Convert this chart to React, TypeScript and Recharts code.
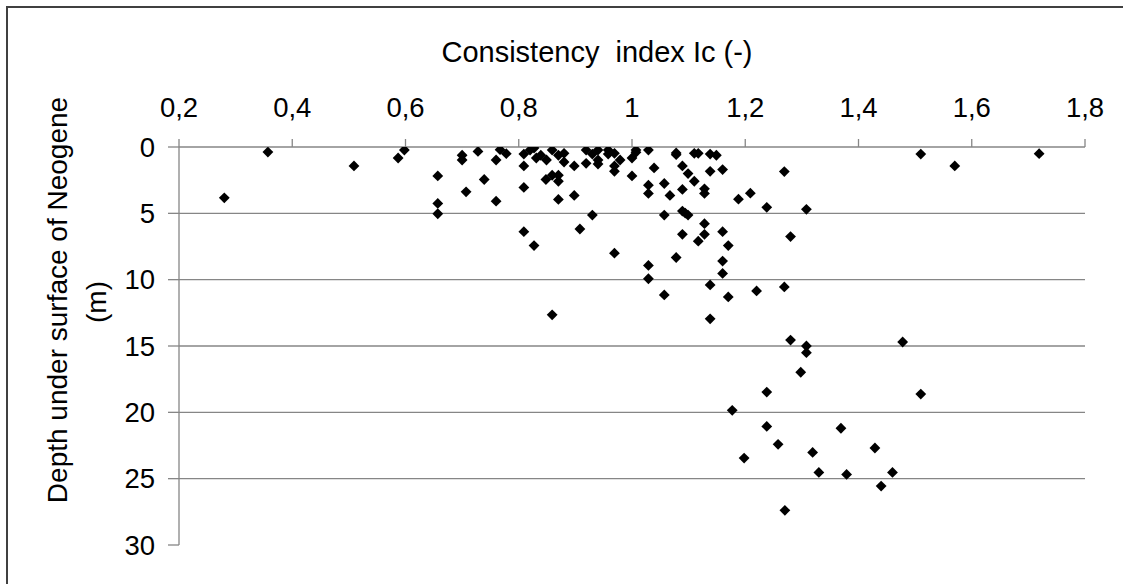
import React from "react";
import {
  ScatterChart,
  Scatter,
  XAxis,
  YAxis,
  ReferenceLine,
} from "recharts";

// Consistency index Ic (-)
const consistencyIndex: number[] = [
  0.28, 0.357, 0.509, 0.587, 0.598, 0.657, 0.657, 0.657, 0.7, 0.7,
  0.707, 0.728, 0.739, 0.76, 0.76, 0.767, 0.778, 0.809, 0.809, 0.809,
  0.809, 0.82, 0.827, 0.831, 0.839, 0.849, 0.848, 0.859, 0.859, 0.87,
  0.87, 0.87, 0.88, 0.88, 0.87, 0.898, 0.898, 0.908, 0.919, 0.919,
  0.93, 0.93, 0.94, 0.94, 0.94, 0.958, 0.958, 0.969, 0.969, 0.969,
  0.979, 1.0, 1.0, 1.007, 1.007, 1.029, 1.029, 1.029, 1.039, 1.057,
  1.057, 1.067, 1.078, 1.078, 1.089, 1.089, 1.089, 1.094, 1.099, 1.099,
  1.11, 1.11, 1.117, 1.128, 1.128, 1.128, 1.128, 1.089, 1.138, 1.149,
  1.138, 1.16, 1.16, 1.188, 1.209, 1.269, 1.238, 1.308, 1.28, 1.51,
  1.57, 1.719, 0.827, 0.969, 0.859, 1.029, 1.029, 1.057, 1.078, 1.117,
  1.17, 1.16, 1.16, 1.138, 1.17, 1.138, 1.22, 1.269, 1.28, 1.308,
  1.308, 1.478, 1.298, 1.238, 1.51, 1.177, 1.238, 1.369, 1.258, 1.429,
  1.319, 1.198, 1.33, 1.379, 1.46, 1.44, 1.27,
];

// Depth under surface of Neogene (m)
const depth: number[] = [
  3.83, 0.38, 1.43, 0.83, 0.23, 2.18, 4.25, 5.03, 0.62, 0.98,
  3.38, 0.33, 2.45, 0.98, 4.08, 0.2, 0.5, 0.53, 1.43, 3.05,
  6.38, 0.23, 0.08, 0.83, 0.62, 0.98, 2.45, 0.23, 2.13, 2.13,
  2.58, 0.62, 0.48, 1.13, 3.95, 1.43, 3.65, 6.18, 0.23, 1.23,
  0.53, 5.13, 0.23, 0.98, 1.28, 0.23, 0.53, 0.48, 1.43, 1.83,
  0.98, 0.83, 2.18, 0.23, 0.4, 0.23, 2.88, 3.5, 1.58, 2.75,
  5.13, 3.65, 0.45, 0.58, 1.43, 3.2, 4.83, 4.98, 2.0, 5.13,
  2.58, 0.48, 0.48, 3.15, 3.5, 5.78, 6.58, 6.58, 0.53, 0.62,
  1.83, 1.7, 6.38, 3.93, 3.48, 1.85, 4.55, 4.7, 6.75, 0.53,
  1.43, 0.5, 7.43, 8.0, 12.65, 8.93, 9.93, 11.15, 8.33, 7.1,
  7.43, 8.6, 9.53, 10.4, 11.3, 12.95, 10.85, 10.55, 14.55, 15.0,
  15.5, 14.7, 16.98, 18.47, 18.62, 19.85, 21.06, 21.2, 22.41, 22.69,
  23.02, 23.45, 24.53, 24.68, 24.53, 25.56, 27.39,
];

const xTicks: number[] = [0.2, 0.4, 0.6, 0.8, 1, 1.2, 1.4, 1.6, 1.8];
const yTicks: number[] = [0, 5, 10, 15, 20, 25, 30];
const gridDepths: number[] = [5, 10, 15, 20, 25];

const xTitle = "Consistency  index Ic (-)";
const yTitleLine1 = "Depth under surface of Neogene";
const yTitleLine2 = "(m)";

const points = consistencyIndex.map((x, i) => ({ x, y: depth[i] }));

const FONT = "'Liberation Sans', Arial, sans-serif";
const AXIS_GRAY = "#868686";

const fmt = (v: number) => String(v).replace(".", ",");

const Diamond = (props: any) => {
  const { cx, cy } = props;
  if (cx == null || cy == null) return null;
  const r = 5.4;
  return (
    <path
      d={`M${cx},${cy - r}L${cx + r},${cy}L${cx},${cy + r}L${cx - r},${cy}Z`}
      fill="#000000"
    />
  );
};

export default function App() {
  return (
    <div
      style={{
        position: "absolute",
        left: 0,
        top: 0,
        width: 1123,
        height: 584,
        overflow: "hidden",
        background: "#ffffff",
      }}
    >
      <div
        style={{
          position: "absolute",
          left: 6,
          top: 6,
          width: 1200,
          height: 700,
          border: "2px solid #404040",
        }}
      />
      <div style={{ position: "absolute", left: 0, top: 0 }}>
        <ScatterChart
          width={1123}
          height={584}
          margin={{ top: 0, right: 38, bottom: 39, left: 0 }}
        >
          <XAxis
            type="number"
            dataKey="x"
            orientation="top"
            domain={[0.2, 1.8]}
            ticks={xTicks}
            tickFormatter={fmt}
            height={147}
            allowDataOverflow
            axisLine={{ stroke: AXIS_GRAY, strokeWidth: 1.3 }}
            tickLine={{ stroke: AXIS_GRAY, strokeWidth: 1.3 }}
            tickSize={8}
            tickMargin={22}
            tick={{ fill: "#000", fontSize: 27.5, fontFamily: FONT }}
            label={{
              content: () => (
                <text
                  x={597}
                  y={52}
                  textAnchor="middle"
                  dominantBaseline="central"
                  fontSize={29}
                  fontFamily={FONT}
                  fill="#000"
                  style={{ whiteSpace: "pre" }}
                  xmlSpace="preserve"
                >
                  {xTitle}
                </text>
              ),
            }}
          />
          <YAxis
            type="number"
            dataKey="y"
            reversed
            domain={[0, 30]}
            ticks={yTicks}
            width={179}
            allowDataOverflow
            axisLine={{ stroke: AXIS_GRAY, strokeWidth: 1.3 }}
            tickLine={{ stroke: AXIS_GRAY, strokeWidth: 1.3 }}
            tickSize={11}
            tickMargin={13}
            tick={{ fill: "#000", fontSize: 27.5, fontFamily: FONT }}
            label={{
              content: () => (
                <g>
                  <text
                    x={57}
                    y={300}
                    transform="rotate(-90 57 300)"
                    textAnchor="middle"
                    dominantBaseline="central"
                    fontSize={28}
                    fontFamily={FONT}
                    fill="#000"
                  >
                    {yTitleLine1}
                  </text>
                  <text
                    x={96}
                    y={302}
                    transform="rotate(-90 96 302)"
                    textAnchor="middle"
                    dominantBaseline="central"
                    fontSize={28}
                    fontFamily={FONT}
                    fill="#000"
                  >
                    {yTitleLine2}
                  </text>
                </g>
              ),
            }}
          />
          {gridDepths.map((d) => (
            <ReferenceLine
              key={d}
              y={d}
              stroke={AXIS_GRAY}
              strokeWidth={1.3}
              ifOverflow="extendDomain"
            />
          ))}
          <Scatter
            data={points}
            shape={<Diamond />}
            isAnimationActive={false}
          />
        </ScatterChart>
      </div>
    </div>
  );
}
